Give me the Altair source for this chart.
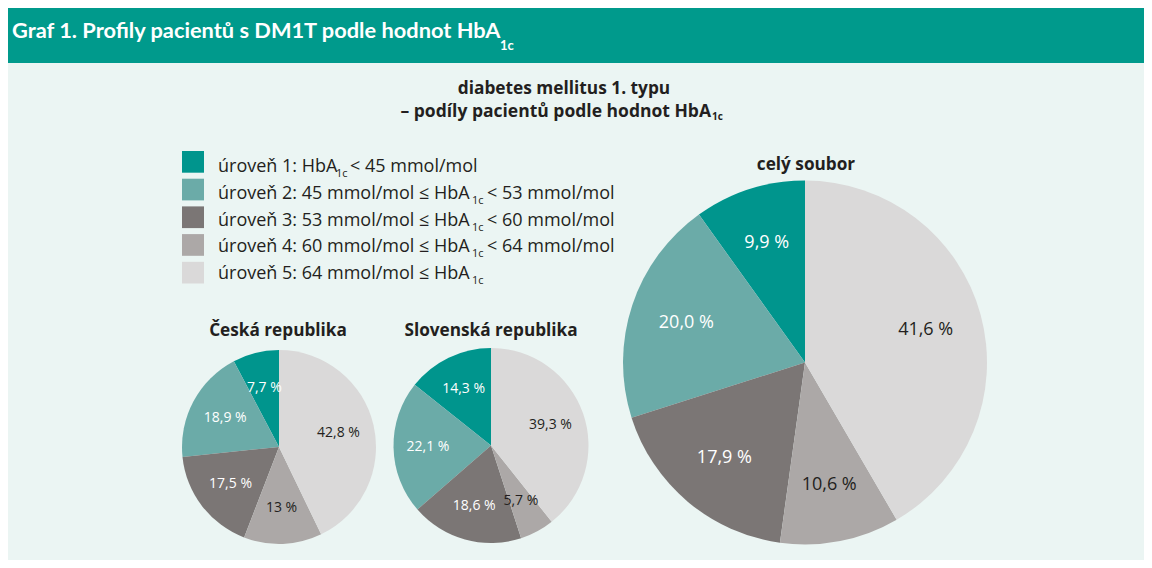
import altair as alt
import pandas as pd

# ---------------- data ----------------
levels = [1, 2, 3, 4, 5]
legend_pre = [
    "úroveň 1: HbA",
    "úroveň 2: 45 mmol/mol ≤ HbA",
    "úroveň 3: 53 mmol/mol ≤ HbA",
    "úroveň 4: 60 mmol/mol ≤ HbA",
    "úroveň 5: 64 mmol/mol ≤ HbA",
]
legend_sub = ["1c", "1c", "1c", "1c", "1c"]
legend_post = ["< 45 mmol/mol", "< 53 mmol/mol", "< 60 mmol/mol", "< 64 mmol/mol", ""]

cz_values = [7.7, 18.9, 17.5, 13.0, 42.8]
cz_labels = ["7,7 %", "18,9 %", "17,5 %", "13 %", "42,8 %"]
sk_values = [14.3, 22.1, 18.6, 5.7, 39.3]
sk_labels = ["14,3 %", "22,1 %", "18,6 %", "5,7 %", "39,3 %"]
all_values = [9.9, 20.0, 17.9, 10.6, 41.6]
all_labels = ["9,9 %", "20,0 %", "17,9 %", "10,6 %", "41,6 %"]

title_main = "Graf 1. Profily pacientů s DM1T podle hodnot HbA"
title_sub = "1c"
subtitle_1 = "diabetes mellitus 1. typu"
subtitle_2 = "– podíly pacientů podle hodnot HbA"
pie_titles = ["Česká republika", "Slovenská republika", "celý soubor"]

# ---------------- style ----------------
W, H = 1136, 552
TEAL = "#009A8C"
BG = "#EBF5F3"
DARK = "#231F20"
level_colors = ["#00958D", "#6BABA8", "#7B7675", "#ACA8A7", "#DAD9D9"]
FONT = "Open Sans"
HFONT = "Lato"

color_scale = alt.Scale(domain=levels, range=level_colors)
one = pd.DataFrame({"a": [0]})


def text_at(t, x, y, size, bold=False, color=DARK, align="left", font=FONT):
    return alt.Chart(pd.DataFrame({"t": [t]})).mark_text(
        font=font, fontSize=size, fontWeight="bold" if bold else "normal",
        color=color, align=align, baseline="alphabetic"
    ).encode(text="t:N", x=alt.value(x), y=alt.value(y))


# header
header = alt.Chart(one).mark_rect(color=TEAL).encode(
    x=alt.value(0), x2=alt.value(W), y=alt.value(0), y2=alt.value(55))
header_t = text_at(title_main, 4, 30, 21.8, bold=True, color="white", font=HFONT)
header_s = text_at(title_sub, 492, 42, 13, bold=True, color="white", font=HFONT)

# subtitle
sub1 = text_at(subtitle_1, 556, 86, 17.3, bold=True, align="center")
sub2 = text_at(subtitle_2, 703, 109, 17.5, bold=True, align="right")
sub2s = text_at("1c", 704, 112, 10, bold=True)

# legend
leg_df = pd.DataFrame({"level": levels, "pre": legend_pre, "sub": legend_sub,
                       "post": legend_post, "row": list(range(5))})
leg = alt.Chart(leg_df).transform_calculate(
    top="datum.row * 27.7 + 143",
    bot="datum.row * 27.7 + 164.7",
    base="datum.row * 26.8 + 164",
    base2="datum.row * 26.8 + 169",
    subx="datum.row == 0 ? 328 : 464",
    postx="datum.row == 0 ? 342 : 479",
)
leg_sq = leg.mark_rect().encode(
    x=alt.value(174), x2=alt.value(196),
    y=alt.Y("top:Q", scale=None), y2="bot:Q",
    color=alt.Color("level:N", scale=color_scale, legend=None))
leg_pre = leg.mark_text(font=FONT, fontSize=18, color=DARK, align="left",
                        baseline="alphabetic").encode(
    x=alt.value(210), y=alt.Y("base:Q", scale=None), text="pre:N")
leg_sub = leg.mark_text(font=FONT, fontSize=11, color=DARK, align="left",
                        baseline="alphabetic").encode(
    x=alt.X("subx:Q", scale=None), y=alt.Y("base2:Q", scale=None), text="sub:N")
leg_post = leg.mark_text(font=FONT, fontSize=18, color=DARK, align="left",
                         baseline="alphabetic").encode(
    x=alt.X("postx:Q", scale=None), y=alt.Y("base:Q", scale=None), text="post:N")

# pies
def pie(values, labels, cx, cy, r, label_r, fs):
    df = pd.DataFrame({"level": levels, "value": values, "label": labels})
    base = alt.Chart(df).encode(
        theta=alt.Theta("value:Q", stack=True),
        order=alt.Order("level:Q", sort="descending"),
        x=alt.value(cx), y=alt.value(cy))
    arc = base.mark_arc(outerRadius=r).encode(
        color=alt.Color("level:N", scale=color_scale, legend=None))
    txt = base.mark_text(radius=label_r, font=FONT, fontSize=fs).encode(
        text="label:N",
        color=alt.condition("datum.level <= 3", alt.value("white"), alt.value(DARK)))
    return alt.layer(arc, txt)


pie_cz = pie(cz_values, cz_labels, 271, 439, 97, 61, 14)
pie_sk = pie(sk_values, sk_labels, 483, 437.5, 97.5, 63, 14)
pie_all = pie(all_values, all_labels, 797, 354.5, 182, 125, 18)

t_cz = text_at(pie_titles[0], 270, 328, 17.2, bold=True, align="center")
t_sk = text_at(pie_titles[1], 483, 328, 17.2, bold=True, align="center")
t_all = text_at(pie_titles[2], 798, 162, 17.2, bold=True, align="center")

chart = alt.layer(
    header, header_t, header_s, sub1, sub2, sub2s,
    leg_sq, leg_pre, leg_sub, leg_post,
    pie_cz, pie_sk, pie_all, t_cz, t_sk, t_all
).resolve_scale(theta="independent").properties(
    width=W, height=H, padding=0, background=BG,
    autosize=alt.AutoSizeParams(type="none")
).configure_view(stroke=None)

chart.save("out.html", embed_options={"renderer": "svg", "actions": False})
